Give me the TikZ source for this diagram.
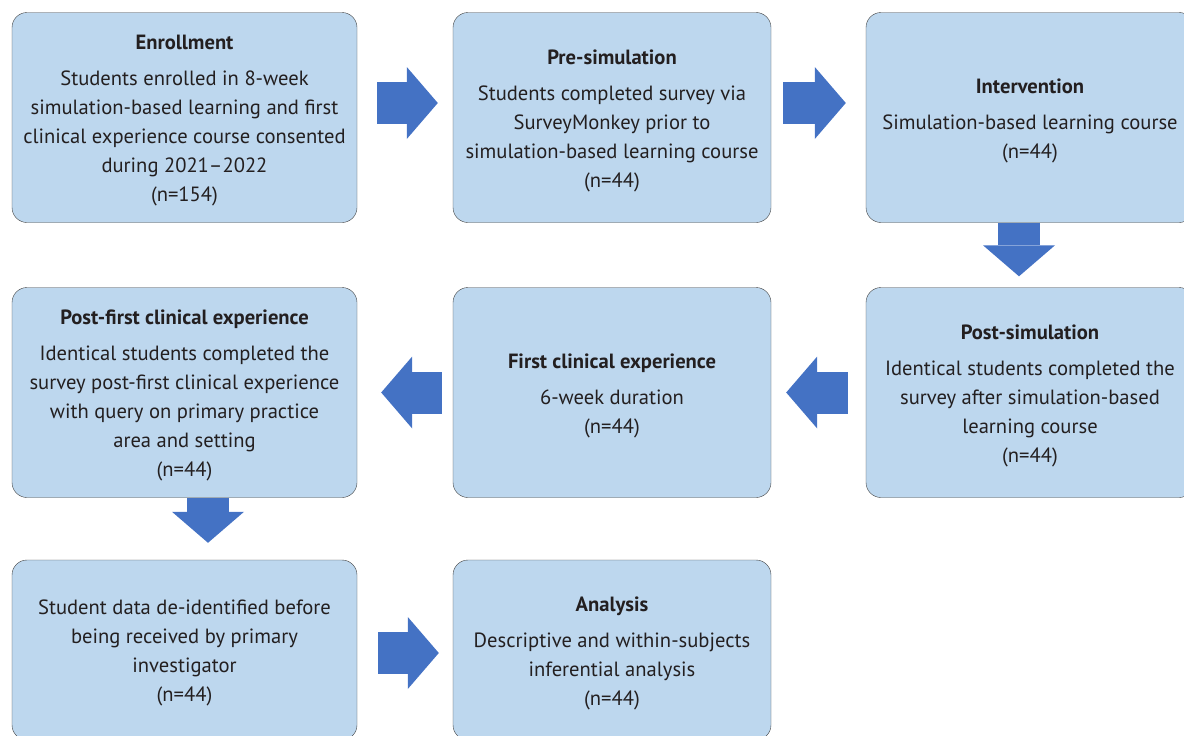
\documentclass[tikz,border=0pt]{standalone}
\usepackage{fontspec}
\setmainfont{PT Sans}
\usetikzlibrary{arrows.meta,calc}
\definecolor{boxblue}{HTML}{BDD7EE}
\definecolor{arrowblue}{HTML}{4472C4}
\definecolor{textgray}{HTML}{231F20}
\newcommand{\stagehead}[1]{\rule{0pt}{21pt}\textbf{#1}\\[7pt]}
\begin{document}
\begin{tikzpicture}[x=1pt,y=-1pt,line join=round]
	\tikzset{stage/.style={draw=black!75,fill=boxblue,rounded corners=15pt,text=textgray,align=center,inner sep=0pt,
			font=\fontsize{20.6}{29}\selectfont,minimum height=210pt},
		flow/.style={arrowblue,line width=42pt,-{Triangle[length=31pt,width=72pt,line width=0pt]}}}
	\clip (0,0) rectangle (1184,736);
	\node[stage,minimum width=345pt] (enroll) at (184.5,117.5) {\stagehead{Enrollment}Students enrolled in 8-week\\simulation-based learning and first\\clinical experience course consented\\during 2021--2022\\(n=154)};
	\node[stage,minimum width=318pt] (presim) at (612,117.5) {\stagehead{Pre-simulation}Students completed survey via\\SurveyMonkey prior to\\simulation-based learning course\\(n=44)};
	\node[stage,minimum width=328pt] (interv) at (1030,117.5) {\stagehead{Intervention}Simulation-based learning course\\(n=44)};
	\node[stage,minimum width=328pt] (postsim) at (1030,392.5) {\stagehead{Post-simulation}Identical students completed the\\survey after simulation-based\\learning course\\(n=44)};
	\node[stage,minimum width=318pt] (clinical) at (612,392.5) {\stagehead{First clinical experience}6-week duration\\(n=44)};
	\node[stage,minimum width=345pt] (postfirst) at (184.5,392.5) {\stagehead{Post-first clinical experience}Identical students completed the\\survey post-first clinical experience\\with query on primary practice\\area and setting\\(n=44)};
	\node[stage,minimum width=345pt,minimum height=180pt] (deident) at (184.5,650) {\rule{0pt}{21pt}Student data de-identified before\\being received by primary\\investigator\\(n=44)};
	\node[stage,minimum width=318pt,minimum height=180pt] (analysis) at (612,650) {\stagehead{Analysis}Descriptive and within-subjects\\inferential analysis\\(n=44)};
	\draw[flow] ($(enroll.east)+(20,-14.5)$) -- ($(presim.west)+(-15,-14.5)$);
	\draw[flow] ($(presim.east)+(12,-14.5)$) -- ($(interv.west)+(-20,-14.5)$);
	\draw[flow] ($(interv.south)+(-11,0)$) -- ($(postsim.north)+(-11,-11)$);
	\draw[flow] ($(postsim.west)+(-18,0)$) -- ($(clinical.east)+(15,0)$);
	\draw[flow] ($(clinical.west)+(-11,0)$) -- ($(postfirst.east)+(24,0)$);
	\draw[flow] ($(postfirst.south)+(23.5,0)$) -- ($(deident.north)+(23.5,-17)$);
	\draw[flow] ($(deident.east)+(21,3)$) -- ($(analysis.west)+(-14,3)$);
\end{tikzpicture}
\end{document}
